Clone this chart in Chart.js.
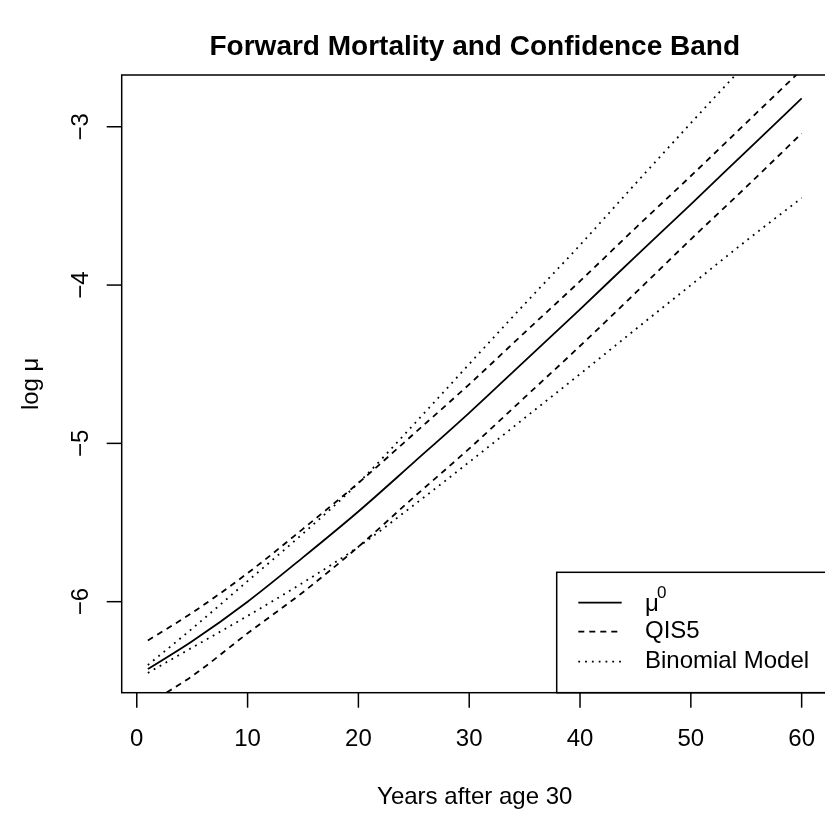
<!DOCTYPE html>
<html>
<head>
<meta charset="utf-8">
<script src="https://cdn.jsdelivr.net/npm/chart.js@4.4.0/dist/chart.umd.min.js"></script>
<style>
  html, body { margin: 0; padding: 0; background: #fff; overflow: hidden; }
  #wrap { width: 832px; height: 817px; }
</style>
</head>
<body>
<div id="wrap"><canvas id="chart" width="832" height="817"></canvas></div>
<script>
// --- data ---
const years = [1, 5, 10, 15, 20, 25, 30, 35, 40, 45, 50, 55, 60];
const mu0 = [-6.426, -6.25, -6.00, -5.72, -5.43, -5.12, -4.807, -4.48, -4.153, -3.82, -3.49, -3.155, -2.821];
const qis5Upper = [-6.245, -6.07, -5.82, -5.54, -5.25, -4.94, -4.627, -4.30, -3.975, -3.64, -3.311, -2.975, -2.64];
const qis5Lower = [-6.646, -6.47, -6.20, -5.94, -5.653, -5.34, -5.033, -4.71, -4.385, -4.05, -3.711, -3.38, -3.042];
const binomUpper = [-6.40, -6.17, -5.87, -5.57, -5.25, -4.88, -4.499, -4.12, -3.747, -3.36, -2.977, -2.60, -2.23];
const binomLower = [-6.45, -6.29, -6.09, -5.88, -5.653, -5.39, -5.118, -4.84, -4.562, -4.28, -4.0, -3.72, -3.45];

const xTicks = [0, 10, 20, 30, 40, 50, 60];
const yTicks = [-3, -4, -5, -6];

const FONT = '"Liberation Sans", Arial, Helvetica, sans-serif';
const DASH = [6, 5];
const DOT = [1.8, 5];

const toPoints = (ys) => years.map((x, i) => ({ x: x, y: ys[i] }));

const line = (label, ys, dash) => ({
    label: label,
    data: toPoints(ys),
    borderColor: '#000',
    borderWidth: 1.8,
    borderDash: dash,
    pointRadius: 0,
    fill: false,
    cubicInterpolationMode: 'monotone'
});

// frame, ticks, labels, titles and legend, R style
const rAxes = {
    id: 'rAxes',
    afterDraw(chart) {
        const ctx = chart.ctx;
        const a = chart.chartArea;
        const xs = chart.scales.x, ys = chart.scales.y;
        ctx.save();
        ctx.strokeStyle = '#000';
        ctx.fillStyle = '#000';
        ctx.lineWidth = 1.5;

        // legend box (bottom right)
        const lx = 556.7, ly = 572.3;
        ctx.fillStyle = '#fff';
        ctx.fillRect(lx, ly, 860 - lx, a.bottom - ly);
        ctx.strokeRect(lx, ly, 860 - lx, a.bottom - ly);

        // plot frame
        ctx.strokeRect(a.left, a.top, a.right - a.left, a.bottom - a.top);

        ctx.fillStyle = '#000';
        ctx.font = '24px ' + FONT;
        ctx.textAlign = 'center';
        ctx.textBaseline = 'middle';
        xTicks.forEach(v => {
            const px = xs.getPixelForValue(v);
            ctx.beginPath();
            ctx.moveTo(px, a.bottom);
            ctx.lineTo(px, a.bottom + 15);
            ctx.stroke();
            ctx.fillText(String(v), px, 739);
        });
        yTicks.forEach(v => {
            const py = ys.getPixelForValue(v);
            ctx.beginPath();
            ctx.moveTo(a.left - 15, py);
            ctx.lineTo(a.left, py);
            ctx.stroke();
            ctx.save();
            ctx.translate(81, py);
            ctx.rotate(-Math.PI / 2);
            ctx.fillText('\u2212' + Math.abs(v), 0, 0);
            ctx.restore();
        });

        // axis titles
        ctx.fillText('Years after age 30', (a.left + a.right) / 2, 797);
        ctx.save();
        ctx.translate(31, (a.top + a.bottom) / 2);
        ctx.rotate(-Math.PI / 2);
        ctx.fillText('log \u03bc', 0, 0);
        ctx.restore();

        // main title
        ctx.font = 'bold 28px ' + FONT;
        ctx.fillText('Forward Mortality and Confidence Band', (a.left + a.right) / 2, 47);

        // legend entries
        const rows = [
            { y: 602.7, dash: [] },
            { y: 631.7, dash: DASH },
            { y: 661.7, dash: DOT }
        ];
        rows.forEach(r => {
            ctx.setLineDash(r.dash);
            ctx.lineWidth = 1.8;
            ctx.beginPath();
            ctx.moveTo(578.3, r.y);
            ctx.lineTo(621.7, r.y);
            ctx.stroke();
        });
        ctx.setLineDash([]);
        ctx.textAlign = 'left';
        ctx.font = '24px ' + FONT;
        ctx.fillText('\u03bc', 645, rows[0].y + 2);
        ctx.font = '17px ' + FONT;
        ctx.fillText('0', 657, rows[0].y - 9);
        ctx.font = '24px ' + FONT;
        ctx.fillText('QIS5', 645, rows[1].y);
        ctx.fillText('Binomial Model', 645, rows[2].y);
        ctx.restore();
    }
};

new Chart(document.getElementById('chart'), {
    type: 'line',
    data: {
        datasets: [
            line('\u03bc0', mu0, []),
            line('QIS5 upper', qis5Upper, DASH),
            line('QIS5 lower', qis5Lower, DASH),
            line('Binomial upper', binomUpper, DOT),
            line('Binomial lower', binomLower, DOT)
        ]
    },
    options: {
        responsive: false,
        animation: false,
        layout: { padding: { top: 75, right: 4.2, left: 0, bottom: 0 } },
        plugins: { legend: { display: false }, tooltip: { enabled: false }, title: { display: false } },
        scales: {
            x: {
                type: 'linear',
                min: -1.36,
                max: 62.36,
                grid: { display: false },
                border: { display: false },
                ticks: { display: false },
                afterFit: (s) => { s.height = 124.3; }
            },
            y: {
                type: 'linear',
                min: -6.575,
                max: -2.673,
                grid: { display: false },
                border: { display: false },
                ticks: { display: false },
                afterFit: (s) => { s.width = 121.7; }
            }
        }
    },
    plugins: [rAxes]
});
</script>
</body>
</html>
